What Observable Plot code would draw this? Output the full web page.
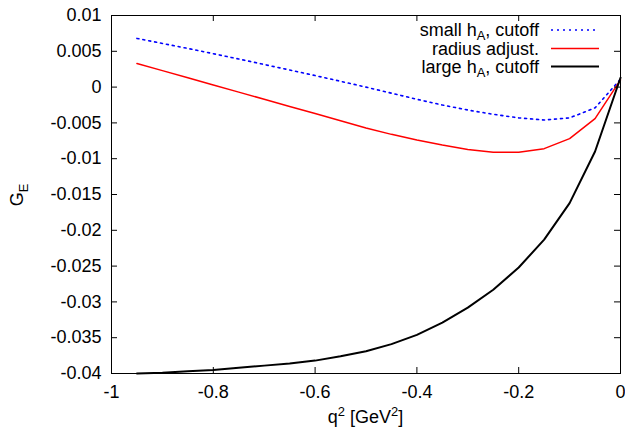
<!DOCTYPE html>
<html>
<head>
<meta charset="utf-8">
<script src="https://cdn.jsdelivr.net/npm/d3@7"></script>
<script src="https://cdn.jsdelivr.net/npm/@observablehq/plot@0.6"></script>
<style>
  html, body { margin: 0; padding: 0; background: #fff; }
  #chart svg { display: block; }
</style>
</head>
<body>
<div id="chart"></div>
<script>
// ---- data ----
const q2 = [-0.95, -0.9, -0.85, -0.8, -0.75, -0.7, -0.65, -0.6, -0.55, -0.5,
            -0.45, -0.4, -0.35, -0.3, -0.25, -0.2, -0.15, -0.1, -0.05, 0];
const smallHA = [0.0068, 0.0061, 0.0054, 0.00467, 0.00392, 0.00316, 0.00239, 0.00161, 0.00081, 0.0000,
                 -0.00085, -0.0017, -0.0025, -0.0032, -0.0038, -0.0043, -0.0046, -0.0043, -0.0029, 0.0011];
const radiusAdj = [0.0033, 0.0023, 0.0013, 0.0003, -0.0007, -0.0017, -0.0027, -0.0037, -0.0047, -0.0057,
                   -0.0066, -0.0074, -0.0081, -0.0087, -0.0091, -0.0091, -0.0086, -0.0072, -0.0044, 0.0010];
const largeHA = [-0.0400, -0.0399, -0.0397, -0.0395, -0.0392, -0.0389, -0.0386, -0.0382, -0.0376, -0.0369,
                 -0.0359, -0.0346, -0.0329, -0.0308, -0.0283, -0.0252, -0.0213, -0.0162, -0.0090, 0.0013];
const xTicks = [-1, -0.8, -0.6, -0.4, -0.2, 0];
const yTicks = [0.01, 0.005, 0, -0.005, -0.01, -0.015, -0.02, -0.025, -0.03, -0.035, -0.04];

// ---- layout ----
const W = 625, H = 432;
const mL = 111, mR = 5, mT = 15, mB = 59;
const innerW = W - mL - mR, innerH = H - mT - mB;
const tick = 6;
const font = "'Liberation Sans', Arial, Helvetica, sans-serif";
const fs = 18;
const dotted = "2,4";

const rows = q2.map((q, i) => ({q, small: smallHA[i], radius: radiusAdj[i], large: largeHA[i]}));

const chart = Plot.plot({
  width: W, height: H,
  marginLeft: mL, marginRight: mR, marginTop: mT, marginBottom: mB,
  style: {fontFamily: font, fontSize: fs + "px", color: "#000", background: "#fff"},
  x: {domain: [-1, 0]},
  y: {domain: [-0.04, 0.01]},
  marks: [
    Plot.line(rows, {x: "q", y: "small", stroke: "#0000ff", strokeWidth: 1.6, strokeDasharray: dotted}),
    Plot.line(rows, {x: "q", y: "radius", stroke: "#ff0000", strokeWidth: 1.5}),
    Plot.line(rows, {x: "q", y: "large", stroke: "#000", strokeWidth: 2}),
    // inward ticks (mirrored on all sides)
    Plot.tickY(yTicks, {y: d => d, insetRight: innerW - tick, stroke: "#000"}),
    Plot.tickY(yTicks, {y: d => d, insetLeft: innerW - tick, stroke: "#000"}),
    Plot.tickX(xTicks, {x: d => d, insetTop: innerH - tick, stroke: "#000"}),
    Plot.tickX(xTicks, {x: d => d, insetBottom: innerH - tick, stroke: "#000"}),
    Plot.frame({stroke: "#000", strokeWidth: 1}),
    Plot.axisX(xTicks, {tickSize: 0, tickPadding: 12, tickFormat: d => String(d), label: null, fontSize: fs}),
    Plot.axisY(yTicks, {tickSize: 0, tickPadding: 10, tickFormat: d => String(d), label: null, fontSize: fs})
  ]
});
document.getElementById("chart").appendChild(chart);

// ---- titles and legend ----
const svg = d3.select(chart);

const yt = svg.append("text")
  .attr("transform", `translate(23,195) rotate(-90)`)
  .attr("text-anchor", "middle")
  .style("font-family", font).style("font-size", fs + "px").attr("fill", "#000");
yt.append("tspan").text("G");
yt.append("tspan").attr("dy", 5).style("font-size", (fs * 0.72) + "px").text("E");

const xt = svg.append("text")
  .attr("x", mL + innerW / 2).attr("y", 423)
  .attr("text-anchor", "middle")
  .style("font-family", font).style("font-size", fs + "px").attr("fill", "#000");
xt.append("tspan").text("q");
xt.append("tspan").attr("dy", -7).style("font-size", (fs * 0.72) + "px").text("2");
xt.append("tspan").attr("dy", 7).text(" [GeV");
xt.append("tspan").attr("dy", -7).style("font-size", (fs * 0.72) + "px").text("2");
xt.append("tspan").attr("dy", 7).text("]");

const legend = [
  {parts: [["small h", 0], ["A", 1], [", cutoff", 0]], stroke: "#0000ff", dash: dotted, w: 1.6},
  {parts: [["radius adjust.", 0]], stroke: "#ff0000", dash: null, w: 1.5},
  {parts: [["large h", 0], ["A", 1], [", cutoff", 0]], stroke: "#000", dash: null, w: 2}
];
const rowY = [30, 48.5, 66.5];
legend.forEach((item, i) => {
  const y = rowY[i];
  const t = svg.append("text")
    .attr("x", 539).attr("y", y).attr("dy", "0.35em")
    .attr("text-anchor", "end")
    .style("font-family", font).style("font-size", fs + "px").attr("fill", "#000");
  let sub = false;
  item.parts.forEach(([s, isSub]) => {
    const ts = t.append("tspan").text(s);
    if (isSub && !sub) { ts.attr("dy", 4).style("font-size", (fs * 0.72) + "px"); sub = true; }
    else if (!isSub && sub) { ts.attr("dy", -4); sub = false; }
  });
  svg.append("line")
    .attr("x1", 551).attr("x2", 599).attr("y1", y).attr("y2", y)
    .attr("stroke", item.stroke).attr("stroke-width", item.w)
    .attr("stroke-dasharray", item.dash);
});
</script>
</body>
</html>
